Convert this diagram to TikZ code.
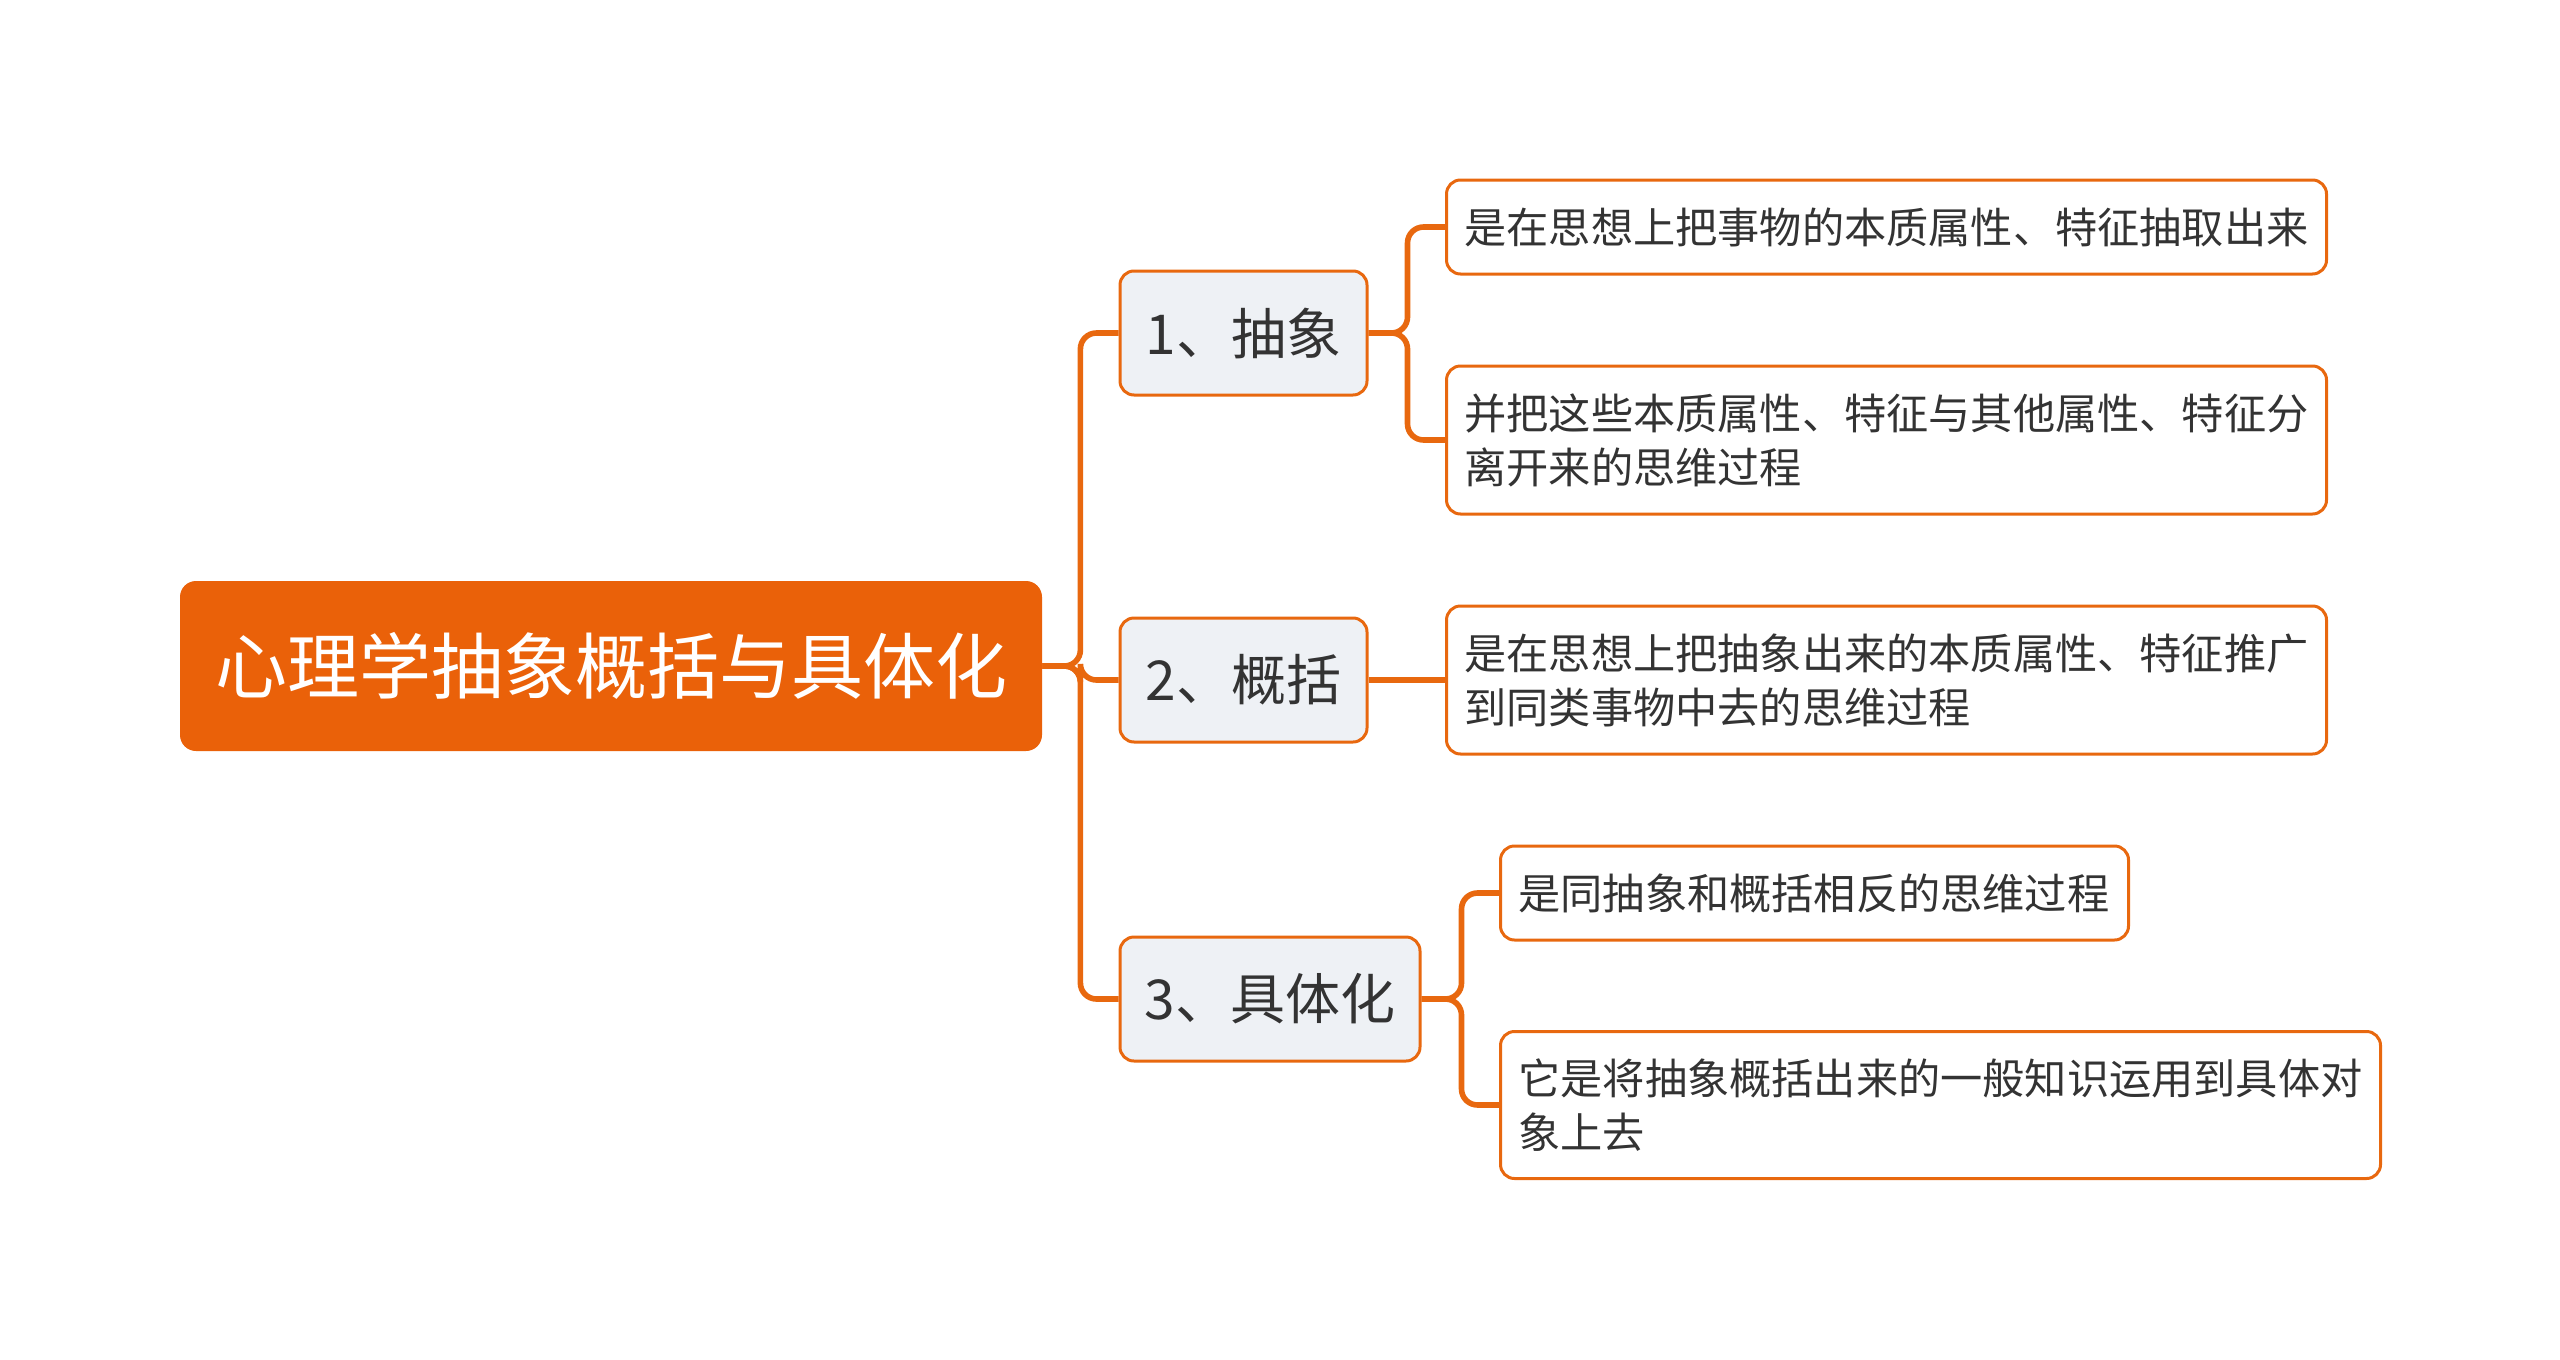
\documentclass[tikz,border=0pt]{standalone}
\usepackage{fontspec}
\setmainfont{Noto Sans CJK SC}
\usepackage{xcolor}
\usetikzlibrary{positioning,calc}
\definecolor{mainorange}{HTML}{EA6109}
\definecolor{lineorange}{HTML}{E8680F}
\definecolor{branchfill}{HTML}{EEF1F5}
\definecolor{textgray}{HTML}{333333}

\begin{document}
\begin{tikzpicture}[
    x=0.5pt, y=-0.5pt,
    rootbox/.style={rectangle, fill=mainorange, rounded corners=8pt, text=white, align=center,
        minimum width=431pt, minimum height=85pt, font=\fontsize{36pt}{42pt}\selectfont},
    branchbox/.style={rectangle, draw=lineorange, line width=1.5pt, fill=branchfill, rounded corners=7pt,
        text=textgray, align=center, minimum height=62pt, font=\fontsize{27.5pt}{33pt}\selectfont},
    leafbox/.style={rectangle, draw=lineorange, line width=1.5pt, fill=white, rounded corners=7pt,
        text=textgray, align=left, anchor=west, inner xsep=9pt, font=\fontsize{21.1pt}{27pt}\selectfont},
    link/.style={draw=lineorange, line width=2.8pt, rounded corners=8pt}
]
\useasboundingbox (0,0) rectangle (2560,1360);

% Root
\node[rootbox] (root) at (611,666) {心理学抽象概括与具体化};

% Branches
\node[branchbox, minimum width=123.5pt] (abstr) at (1243.5,333) {1、抽象};
\node[branchbox, minimum width=123.5pt] (gener) at (1243.5,680) {2、概括};
\node[branchbox, minimum width=150pt] (concr) at (1270,999) {3、具体化};

% Leaves
\node[leafbox, text width=422pt, minimum height=47pt] (abstrA) at (1445,227) {是在思想上把事物的本质属性、特征抽取出来};
\node[leafbox, text width=422pt, minimum height=74pt] (abstrB) at (1445,440) {并把这些本质属性、特征与其他属性、特征分\\离开来的思维过程};
\node[leafbox, text width=422pt, minimum height=74pt] (generA) at (1445,680) {是在思想上把抽象出来的本质属性、特征推广\\到同类事物中去的思维过程};
\node[leafbox, text width=296pt, minimum height=47pt] (concrA) at (1499,893) {是同抽象和概括相反的思维过程};
\node[leafbox, text width=422pt, minimum height=73.5pt] (concrB) at (1499,1105) {它是将抽象概括出来的一般知识运用到具体对\\象上去};

% Root to branches
\draw[link] (root.east) -- ++(38,0) |- (abstr.west);
\draw[link] (root.east) -- ++(38,0) |- (gener.west);
\draw[link] (root.east) -- ++(38,0) |- (concr.west);

% Branches to leaves
\draw[link] (abstr.east) -- ++(39,0) |- (abstrA.west);
\draw[link] (abstr.east) -- ++(39,0) |- (abstrB.west);
\draw[link] (gener.east) -- (generA.west);
\draw[link] (concr.east) -- ++(40,0) |- (concrA.west);
\draw[link] (concr.east) -- ++(40,0) |- (concrB.west);

\end{tikzpicture}
\end{document}
